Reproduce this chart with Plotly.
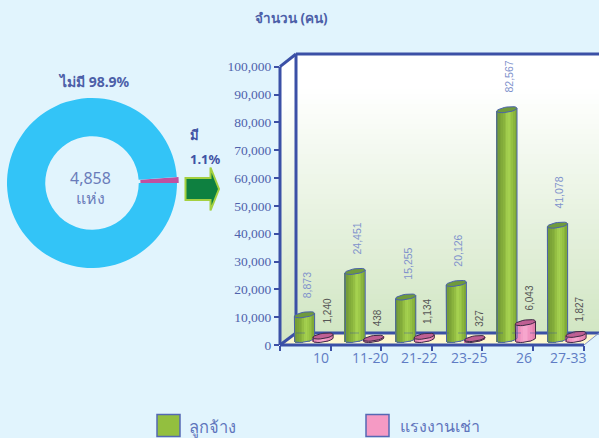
import math
import plotly.graph_objects as go

categories = ["10", "11-20", "21-22", "23-25", "26", "27-33"]
employees = [8873, 24451, 15255, 20126, 82567, 41078]
leased = [1240, 438, 1134, 327, 6043, 1827]
y_ticks = [0, 10000, 20000, 30000, 40000, 50000, 60000, 70000, 80000, 90000, 100000]
donut_labels = ["มี", "ไม่มี"]
donut_values = [1.1, 98.9]

W, H = 599, 438
BG = "#e1f4fd"
AXIS = "#3b50a6"
TEXT = "#5568b4"
px = lambda x: x / W
py = lambda y: 1 - y / H
def poly(points):
    return "M" + " L".join(f"{px(a):.5f},{py(b):.5f}" for a, b in points) + " Z"

Y0, Y100, X0 = 345, 66.7, 280
CAT = 50.6
XMAX = 6.1
DEPTH = 2000      # lift of the cylinder base into the 3D floor
BW = 0.40         # cylinder width in category units
B = 950           # ellipse half height in y units
SHEAR = 2700      # ellipse tilt in y units per x unit
N = 12

shapes = []
# walls with a vertical gradient
def wall_color(y):
    t = max(0, min(1, (y - 85) / (333 - 85)))
    c0, c1 = (255, 255, 255), (209, 230, 195)
    return "rgb(%d,%d,%d)" % tuple(round(a + (b - a) * t) for a, b in zip(c0, c1))
y = 54
while y < 333:
    y1 = min(333, y + 5)
    shapes.append(dict(type="path", xref="paper", yref="paper", layer="below", line_width=0,
                       fillcolor=wall_color(y), path=poly([(296, y), (599, y), (599, y1 + .5), (296, y1 + .5)])))
    shapes.append(dict(type="path", xref="paper", yref="paper", layer="below", line_width=0,
                       fillcolor=wall_color(y), path=poly([(280, y + 12.7), (296, y), (296, y1 + .5), (280, y1 + 13.2)])))
    y = y1
# floor
shapes.append(dict(type="path", xref="paper", yref="paper", layer="below", line_width=0, fillcolor="#fdf8cf",
                   path=poly([(280, 345), (296, 333), (599, 333), (584, 345)])))
# frame
for a, b, w, col in [((296, 54), (599, 54), 3, AXIS), ((296, 54), (296, 333), 3, AXIS), ((296, 333), (599, 333), 3, AXIS),
                     ((280, 66.7), (296, 54), 3, AXIS), ((280, 345), (296, 333), 3, AXIS), ((280, 66.7), (280, 345), 3, AXIS),
                     ((280, 345), (584, 345), 3, AXIS), ((584, 345), (599, 333), 1, "#7f8fc8")]:
    shapes.append(dict(type="line", xref="paper", yref="paper", layer="below", x0=px(a[0]), y0=py(a[1]),
                       x1=px(b[0]), y1=py(b[1]), line=dict(color=col, width=w)))
# faint back line seen through the bars
shapes.append(dict(type="line", xref="paper", yref="paper", layer="above", x0=px(296), y0=py(333), x1=px(599), y1=py(333),
                   line=dict(color="rgba(59,80,166,0.22)", width=2, dash="dash")))
# arrow
shapes.append(dict(type="path", xref="paper", yref="paper", fillcolor="#0e8040", line=dict(color="#a4d040", width=2),
                   path=poly([(185.5, 178), (210.5, 178), (210.5, 167.5), (219, 189), (210.5, 210.5), (210.5, 200), (185.5, 200)])))
# legend swatches
for x, col in [(157, "#93bf3f"), (366, "#f59ac4")]:
    shapes.append(dict(type="rect", xref="paper", yref="paper", x0=px(x), x1=px(x + 23), y0=py(414.5), y1=py(436.5),
                       fillcolor=col, line=dict(color="#5568b4", width=1.5)))

fig = go.Figure()

def stops_color(stops, t):
    t = t * (len(stops) - 1)
    i = min(int(t), len(stops) - 2)
    f = t - i
    a, b = stops[i], stops[i + 1]
    return "rgb(%d,%d,%d)" % tuple(round(a[k] + (b[k] - a[k]) * f) for k in range(3))

GREEN = [(110, 150, 58), (125, 165, 55), (140, 182, 62), (168, 212, 82), (150, 195, 68), (128, 170, 55)]
PINK = [(226, 128, 172), (240, 146, 192), (248, 170, 208), (240, 146, 192), (226, 128, 172)]

def cylinder(values, centre, stops, top_col, edge, name):
    xs = [i + centre for i in range(len(values))]
    # the named series itself
    fig.add_bar(x=xs, y=values, base=DEPTH, width=BW * 0.5, name=name, showlegend=False,
                marker=dict(color="rgb(%d,%d,%d)" % stops[1], line_width=0))
    # shaded slices following the curved base and the tilted top
    for k in range(N):
        dx = (k + 0.5) / N * BW - BW / 2
        curve = B * math.sqrt(max(0, 1 - (dx / (BW / 2)) ** 2))
        base = [DEPTH + SHEAR * dx - curve] * len(values)
        tops = [v + curve for v in values]
        fig.add_bar(x=[x + dx for x in xs], y=tops, base=base, width=BW / N * 1.1, showlegend=False, hoverinfo="skip",
                    marker=dict(color=stops_color(stops, k / (N - 1)), line_width=0))
    # top ellipse and outline
    ex, ey, ox, oy = [], [], [], []
    M = 24
    for x, v in zip(xs, values):
        top = DEPTH + v
        angs = [2 * math.pi * j / M for j in range(M + 1)]
        ex += [x + BW / 2 * math.cos(a) for a in angs] + [None]
        ey += [top + SHEAR * BW / 2 * math.cos(a) + B * math.sin(a) for a in angs] + [None]
        low = [math.pi + math.pi * j / (M // 2) for j in range(M // 2 + 1)]
        ox += [x - BW / 2] + [x + BW / 2 * math.cos(a) for a in low] + [x + BW / 2, None]
        oy += [top - SHEAR * BW / 2] + [DEPTH + SHEAR * BW / 2 * math.cos(a) + B * math.sin(a) for a in low] + [top + SHEAR * BW / 2, None]
    fig.add_scatter(x=ox, y=oy, mode="lines", line=dict(color=edge, width=1), showlegend=False, hoverinfo="skip")
    fig.add_scatter(x=ex, y=ey, mode="lines", fill="toself", fillcolor=top_col, line=dict(color=edge, width=1),
                    showlegend=False, hoverinfo="skip")
    return xs

gx = cylinder(employees, 0.484, GREEN, "#6f9a3c", "#4a62ac", "ลูกจ้าง")
lx = cylinder(leased, 0.85, PINK, "#bf5f93", "#3d2a44", "แรงงานเช่า")

annotations = []
for x, v in zip(gx, employees):
    annotations.append(dict(x=x, y=v + DEPTH, xref="x", yref="y", text=f"{v:,}", textangle=-90, showarrow=False,
                            yanchor="bottom", xshift=2, yshift=15, font=dict(family="Liberation Sans", size=10.5, color="#7f92cc")))
for x, v in zip(lx, leased):
    annotations.append(dict(x=x, y=v + DEPTH, xref="x", yref="y", text=f"{v:,}", textangle=-90, showarrow=False,
                            yanchor="bottom", xshift=4, yshift=10, font=dict(family="Liberation Sans", size=10, color="#555555")))
label_shift = [16, 15, 13, 12, 16, 10]
for i, (c, s) in enumerate(zip(categories, label_shift)):
    annotations.append(dict(x=i + 0.5, y=0, xref="x", yref="y", text=c, showarrow=False, yanchor="top", xshift=s, yshift=-1,
                            font=dict(family="Open Sans", size=14, color="#5f7cc4")))

def note(x, y, text, size, bold=False, color=TEXT, xanchor="center"):
    annotations.append(dict(x=px(x), y=py(y), xref="paper", yref="paper", text=f"<b>{text}</b>" if bold else text, showarrow=False,
                            xanchor=xanchor, yanchor="middle",
                            font=dict(family="Noto Sans, Open Sans, DejaVu Sans", size=size, color=color)))
note(291, 18, "จำนวน (คน)", 13.5, True, "#4c5fa8")
note(94, 82, "ไม่มี 98.9%", 14, True, "#4c5fa8")
note(195, 135, "มี", 13, True, "#3f52a4")
note(205, 159, "1.1%", 13, True, "#3f52a4")
note(90, 178, "4,858", 16, False, "#6a7cba")
note(90, 198, "แห่ง", 16, False, "#6a7cba")
note(187, 426, "ลูกจ้าง", 16.5, False, "#5f74bc", "left")
note(398, 426, "แรงงานเช่า", 16, False, "#5f74bc", "left")

PULL = 0.02
RAD = 85 * (1 + PULL)
fig.add_pie(labels=donut_labels, values=donut_values, hole=0.55, sort=False, direction="clockwise", rotation=86,
            marker=dict(colors=["#c050a0", "#33c4f7"], line_width=0), pull=[PULL, 0], textinfo="none", showlegend=False,
            domain=dict(x=[px(92 - RAD), px(92 + RAD)], y=[py(183 + RAD), py(183 - RAD)]))

fig.update_layout(
    width=W, height=H, autosize=False, margin=dict(l=0, r=0, t=0, b=0, autoexpand=False), paper_bgcolor=BG, plot_bgcolor="rgba(0,0,0,0)",
    barmode="overlay", bargap=0, showlegend=False, shapes=shapes, annotations=annotations,
    xaxis=dict(domain=[px(X0), px(X0 + CAT * XMAX)], range=[0, XMAX], tickvals=list(range(7)), ticktext=[""] * 7,
               ticks="outside", ticklen=5, tickwidth=2, tickcolor=AXIS, showgrid=False, zeroline=False, showline=False),
    yaxis=dict(domain=[py(Y0), py(Y100)], range=[0, 100000], tickvals=y_ticks, tickformat=",", ticks="outside", ticklen=5,
               tickwidth=2, tickcolor=AXIS, showgrid=False, zeroline=False, showline=False,
               tickfont=dict(family="Liberation Serif", size=13.5, color="#4f62ac")),
)
fig.write_html("out.html", config=dict(displayModeBar=False),
               post_script="document.body.style.margin='0';document.body.style.overflow='hidden';")
